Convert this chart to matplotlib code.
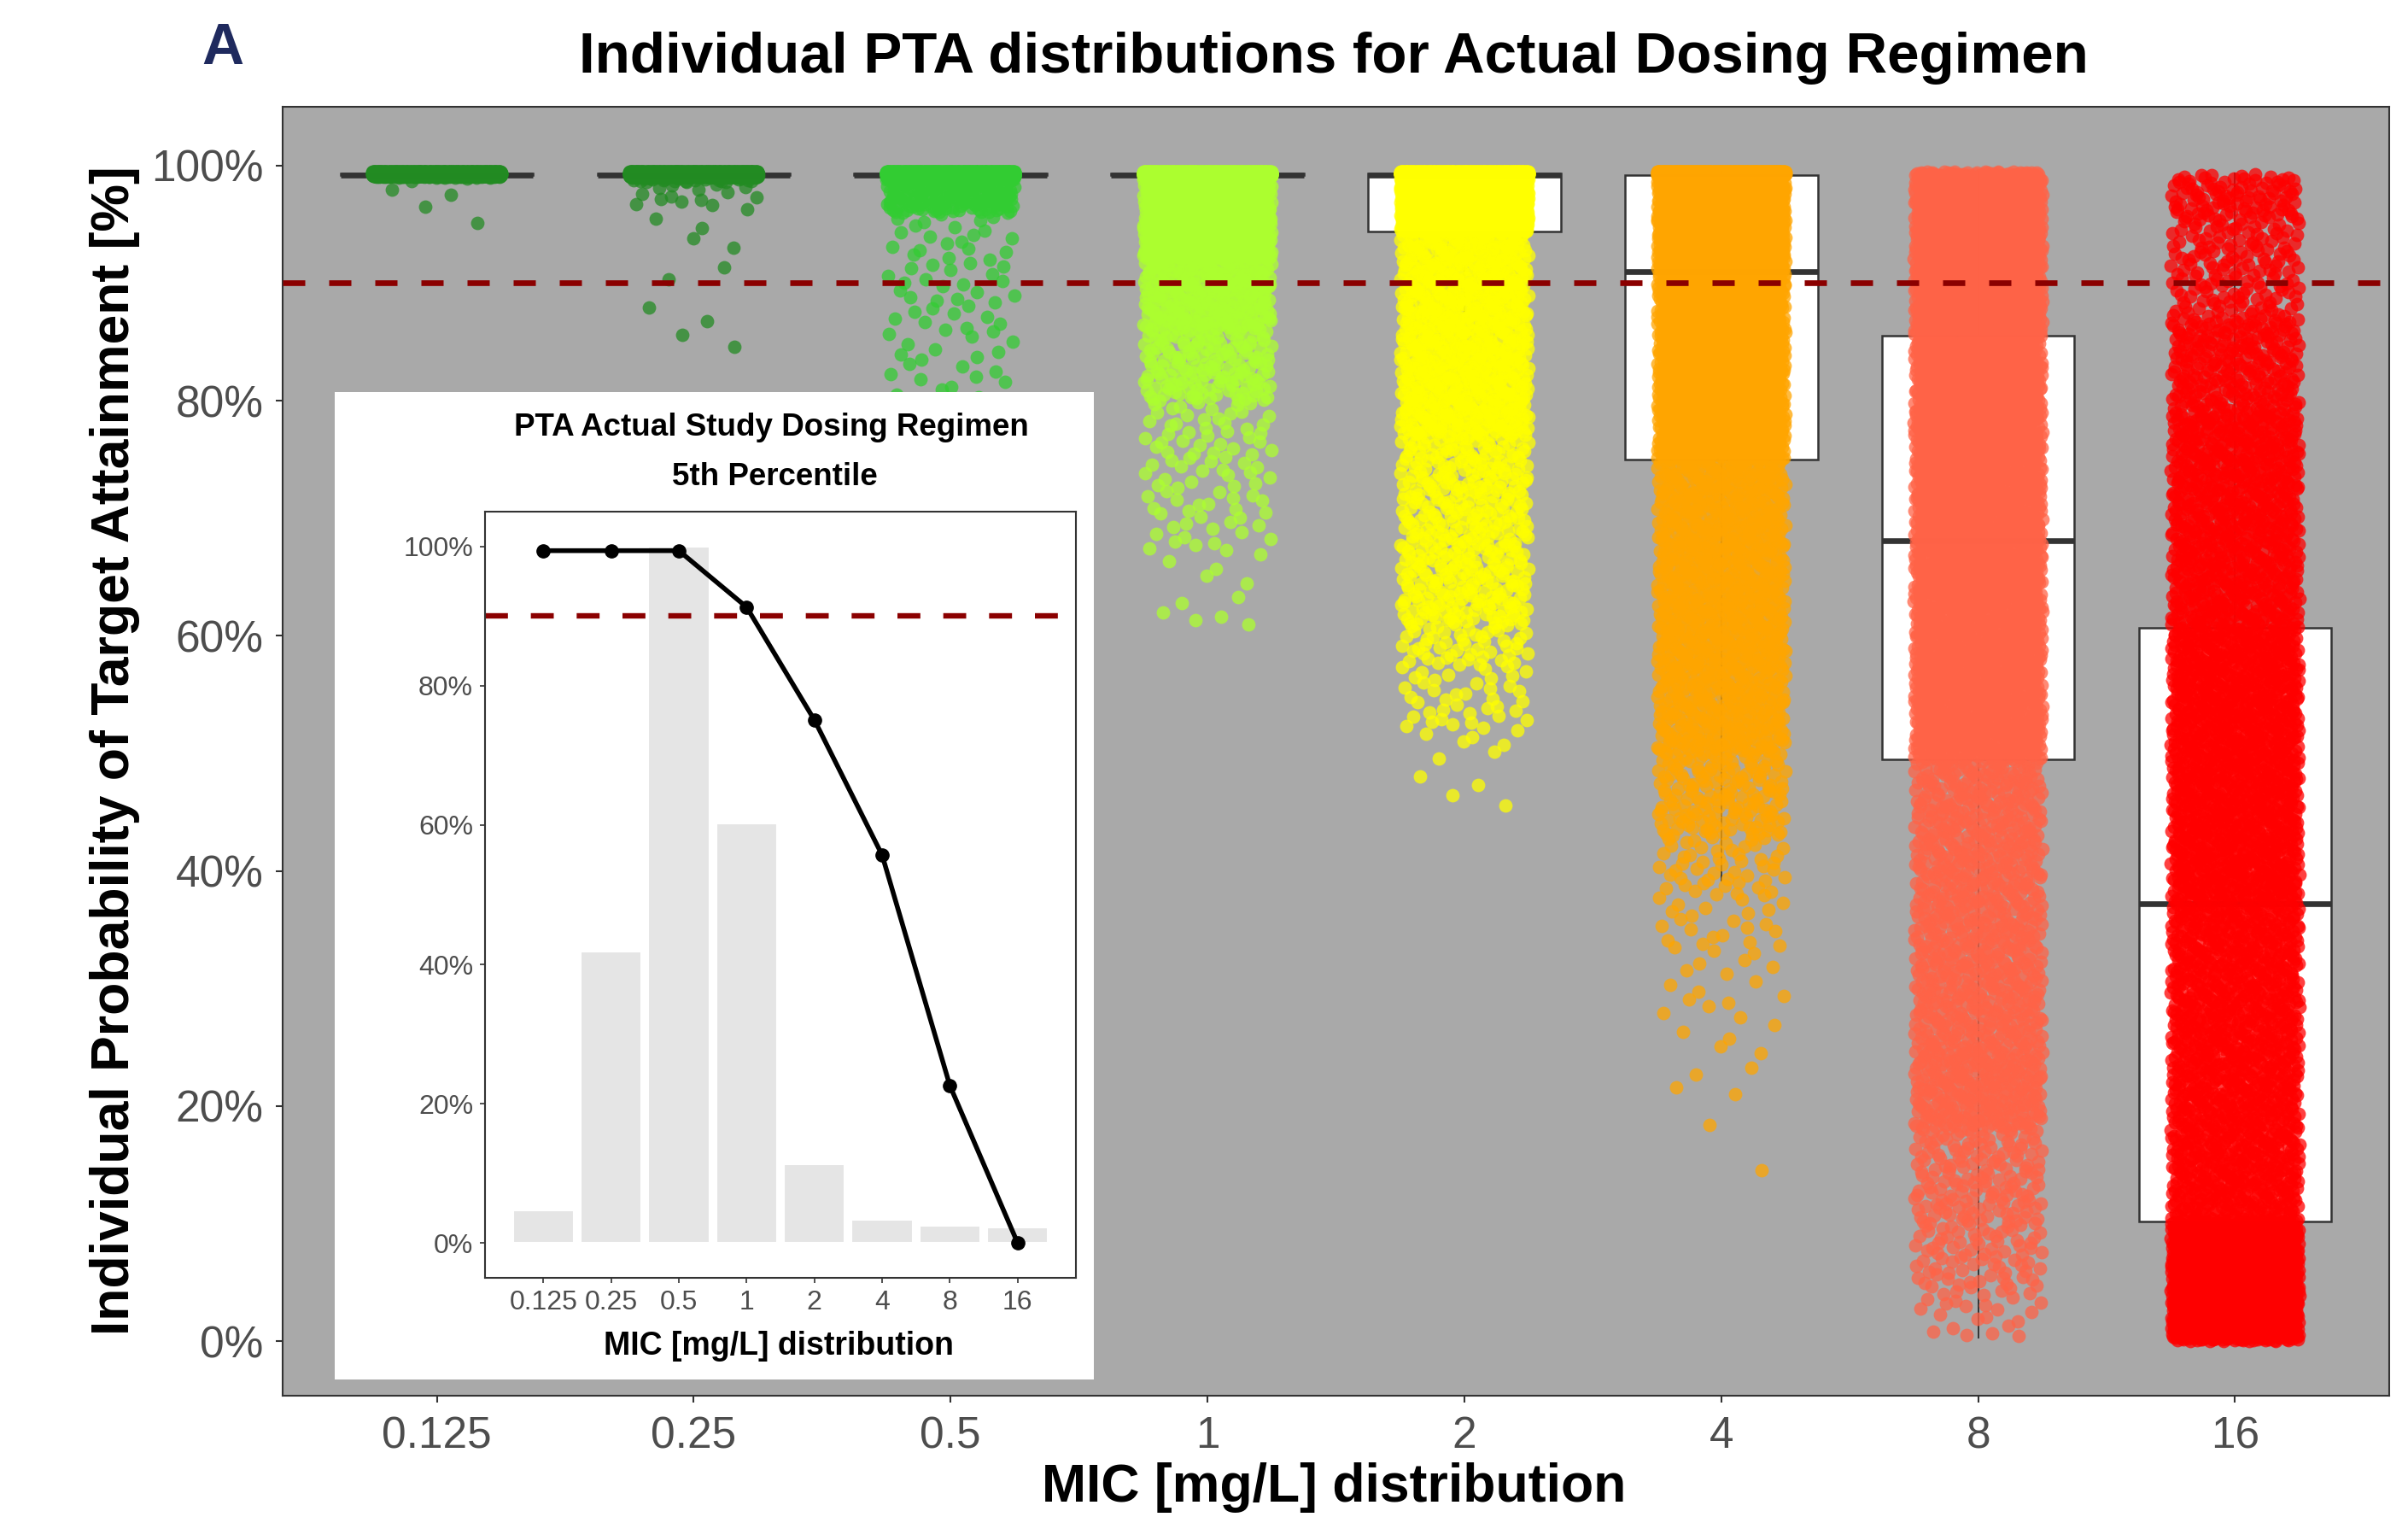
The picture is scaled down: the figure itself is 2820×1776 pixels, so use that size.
import numpy as np
import matplotlib
matplotlib.use("Agg")
import matplotlib.pyplot as plt

plt.rcParams['font.family'] = ['Liberation Sans', 'DejaVu Sans']

# ---- data ----
mic_labels = ['0.125', '0.25', '0.5', '1', '2', '4', '8', '16']
point_colors = ['#228B22', '#228B22', '#32CD32', '#ADFF2F',
                '#FFFF00', '#FFA500', '#FF6347', '#FF0000']

# individual PTA (%) quantiles per MIC, at these cumulative probabilities
quant_p = [0, 0.0004, 0.001, 0.002, 0.005, 0.01, 0.02, 0.05, 0.10,
           0.25, 0.50, 0.75, 0.90, 0.95, 0.98, 1.0]
pta_q_0125 = [93.7, 97.4, 98.9, 99.0, 99.05, 99.1, 99.12, 99.15, 99.2,
              99.25, 99.3, 99.35, 99.4, 99.45, 99.48, 99.5]
pta_q_025 = [83.5, 86.3, 91.0, 96.4, 98.6, 99.0, 99.05, 99.1, 99.15,
             99.25, 99.3, 99.35, 99.4, 99.45, 99.48, 99.5]
pta_q_05 = [65.0, 68.0, 70.0, 72.0, 79.0, 86.0, 96.0, 98.8, 99.1,
            99.2, 99.3, 99.35, 99.4, 99.45, 99.48, 99.5]
pta_q_1 = [60.7, 61.5, 63.0, 67.0, 70.0, 74.0, 80.0, 86.0, 92.0,
           99.1, 99.25, 99.35, 99.4, 99.45, 99.48, 99.5]
pta_q_2 = [44.7, 47.0, 50.0, 52.0, 54.0, 57.5, 61.0, 67.0, 77.0,
           94.4, 99.2, 99.35, 99.4, 99.45, 99.48, 99.5]
pta_q_4 = [10.7, 20.8, 23.0, 27.0, 33.0, 38.0, 43.0, 50.0, 57.0,
           75.0, 91.0, 99.2, 99.4, 99.45, 99.48, 99.5]
pta_q_8 = [0.3, 0.6, 1.2, 2.5, 4.5, 6.5, 10.0, 18.0, 25.0,
           49.5, 68.1, 85.5, 94.5, 97.0, 98.8, 99.5]
pta_q_16 = [0.0, 0.02, 0.05, 0.1, 0.2, 0.4, 0.8, 1.8, 4.0,
            10.2, 37.2, 60.7, 79.0, 87.0, 95.5, 99.3]
pta_quantiles = [pta_q_0125, pta_q_025, pta_q_05, pta_q_1,
                 pta_q_2, pta_q_4, pta_q_8, pta_q_16]
n_indiv = 5000

# boxplot statistics (%)
box_q1 = [99.2, 99.2, 99.2, 99.2, 94.4, 75.0, 49.5, 10.2]
box_med = [99.2, 99.2, 99.2, 99.2, 99.2, 91.0, 68.1, 37.2]
box_q3 = [99.3, 99.3, 99.3, 99.3, 99.3, 99.2, 85.5, 60.7]
box_lo = [99.2, 99.2, 99.2, 99.2, 86.9, 39.2, 0.3, 0.0]
box_hi = [99.3, 99.3, 99.3, 99.3, 99.5, 99.5, 99.5, 99.3]

target = 90

# inset: 5th percentile PTA and MIC distribution (scaled to max)
pta_5th = [99.4, 99.4, 99.4, 91.3, 75.1, 55.7, 22.6, 0.0]
mic_freq = [4.7, 41.9, 100.0, 60.3, 11.3, 3.3, 2.5, 2.2]


def halton(n, base):
    # radical inverse, used to spread the individuals evenly (no randomness)
    out = np.zeros(n)
    for k in range(n):
        f, r, i = 1.0, 0.0, k + 1
        while i > 0:
            f /= base
            r += f * (i % base)
            i //= base
        out[k] = r
    return out


# ---- figure ----
W, H = 2820, 1776
fig = plt.figure(figsize=(W / 100, H / 100), dpi=100)


def fx(px):
    return px / W


def fy(py):
    return 1 - py / H


dark = '#333333'
ticktxt = '#4D4D4D'

ax = fig.add_axes([fx(331), fy(1633.5), fx(2798 - 331), (1633.5 - 125) / H])
ax.set_facecolor('#A9A9A9')
pos = np.arange(1, 9)

stats = []
for i in range(8):
    stats.append(dict(med=box_med[i], q1=box_q1[i], q3=box_q3[i],
                      whislo=box_lo[i], whishi=box_hi[i], fliers=[]))
ax.bxp(stats, positions=pos, widths=0.75, patch_artist=True,
       showcaps=False, showfliers=False,
       boxprops=dict(facecolor='white', edgecolor=dark, linewidth=1.8),
       medianprops=dict(color=dark, linewidth=4.8, solid_capstyle='butt'),
       whiskerprops=dict(color=dark, linewidth=1.4), zorder=2)

u_x = halton(n_indiv, 2)
u_p = halton(n_indiv, 3)
offs = 0.25 * (2 * u_x - 1)
for i in range(8):
    yv = np.interp(u_p, quant_p, pta_quantiles[i])
    ax.scatter(pos[i] + offs, yv, s=130, color=point_colors[i], alpha=0.75,
               linewidths=0, zorder=3)

ax.axhline(target, color='#8B0000', lw=4.8, ls=(0, (3.9, 4.2)), zorder=4)

ax.set_xlim(0.4, 8.6)
ax.set_ylim(-4.6, 105)
ax.set_xticks(pos)
ax.set_xticklabels(mic_labels)
ax.set_yticks([0, 20, 40, 60, 80, 100])
ax.set_yticklabels(['0%', '20%', '40%', '60%', '80%', '100%'])
ax.tick_params(length=6, width=1.5, color=dark, labelsize=37, labelcolor=ticktxt)
ax.tick_params(axis='x', pad=11)
ax.tick_params(axis='y', pad=10)
for s in ax.spines.values():
    s.set_color(dark)
    s.set_linewidth(1.5)

fig.text(fx(1562), fy(68), 'Individual PTA distributions for Actual Dosing Regimen',
         ha='center', va='center', fontsize=48.5, fontweight='bold')
fig.text(fx(261), fy(57), 'A', ha='center', va='center', fontsize=49,
         fontweight='bold', color='#1F2A5E')
fig.text(fx(1562), fy(1741), 'MIC [mg/L] distribution', ha='center', va='center',
         fontsize=45, fontweight='bold')
fig.text(fx(135), fy(879), 'Individual Probability of Target Attainment [%]',
         ha='center', va='center', rotation=90, fontsize=45, fontweight='bold')

# ---- inset ----
panel = fig.add_axes([fx(392), fy(1615), fx(1281 - 392), (1615 - 459) / H])
panel.set_facecolor('white')
panel.set_xticks([])
panel.set_yticks([])
for s in panel.spines.values():
    s.set_visible(False)
panel.set_zorder(5)

ins = fig.add_axes([fx(568), fy(1496), fx(1260 - 568), (1496 - 599) / H])
ins.set_zorder(6)
ins.bar(pos, mic_freq, width=0.9, color='#E5E5E5', edgecolor='white', linewidth=1.5)
ins.axhline(target, color='#8B0000', lw=4.6, ls=(0, (4.2, 4.2)))
ins.plot(pos, pta_5th, color='black', lw=4, marker='o', markersize=11)
ins.set_xlim(0.14, 8.86)
ins.set_ylim(-5, 105)
ins.set_xticks(pos)
ins.set_xticklabels(mic_labels)
ins.set_yticks([0, 20, 40, 60, 80, 100])
ins.set_yticklabels(['0%', '20%', '40%', '60%', '80%', '100%'])
ins.tick_params(length=4, width=1.2, color=dark, labelsize=23, labelcolor=ticktxt)
ins.tick_params(axis='x', pad=6)
ins.tick_params(axis='y', pad=6)
for s in ins.spines.values():
    s.set_color(dark)
    s.set_linewidth(1.5)

fig.text(fx(903), fy(501), 'PTA Actual Study Dosing Regimen', ha='center',
         va='center', fontsize=26.5, fontweight='bold', zorder=10)
fig.text(fx(907), fy(558), '5th Percentile', ha='center', va='center',
         fontsize=26.5, fontweight='bold', zorder=10)
fig.text(fx(912), fy(1576), 'MIC [mg/L] distribution', ha='center', va='center',
         fontsize=27, fontweight='bold', zorder=10)

fig.savefig('out.png', dpi=100)
